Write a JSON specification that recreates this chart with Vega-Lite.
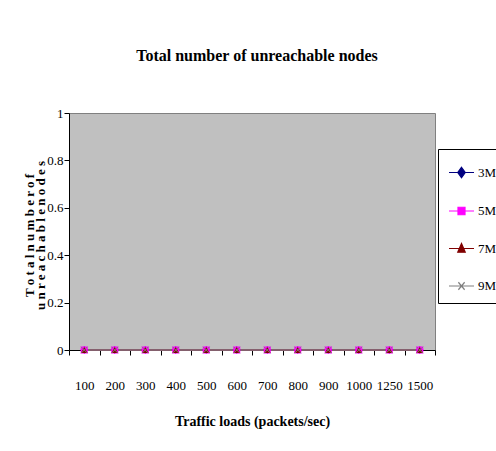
{
  "$schema": "https://vega.github.io/schema/vega-lite/v6.json",
  "width": 366,
  "height": 237,
  "autosize": {"type": "none"},
  "padding": {"left": 69, "top": 113, "right": 61, "bottom": 101},
  "background": "white",
  "title": {
    "text": "Total number of unreachable nodes",
    "font": "Liberation Serif",
    "fontSize": 16,
    "fontWeight": "bold",
    "color": "black",
    "anchor": "middle",
    "offset": 43,
    "dx": 5
  },
  "config": {
    "view": {"fill": "#c0c0c0", "stroke": "#808080", "strokeWidth": 1},
    "axis": {
      "labelFont": "Liberation Serif",
      "labelFontSize": 13,
      "labelColor": "black",
      "titleFont": "Liberation Serif",
      "titleColor": "black",
      "domainColor": "black",
      "tickColor": "black",
      "grid": false
    }
  },
  "data": {
    "values": [
      {"load": "100", "series": "3M", "nodes": 0},
      {"load": "200", "series": "3M", "nodes": 0},
      {"load": "300", "series": "3M", "nodes": 0},
      {"load": "400", "series": "3M", "nodes": 0},
      {"load": "500", "series": "3M", "nodes": 0},
      {"load": "600", "series": "3M", "nodes": 0},
      {"load": "700", "series": "3M", "nodes": 0},
      {"load": "800", "series": "3M", "nodes": 0},
      {"load": "900", "series": "3M", "nodes": 0},
      {"load": "1000", "series": "3M", "nodes": 0},
      {"load": "1250", "series": "3M", "nodes": 0},
      {"load": "1500", "series": "3M", "nodes": 0},
      {"load": "100", "series": "5M", "nodes": 0},
      {"load": "200", "series": "5M", "nodes": 0},
      {"load": "300", "series": "5M", "nodes": 0},
      {"load": "400", "series": "5M", "nodes": 0},
      {"load": "500", "series": "5M", "nodes": 0},
      {"load": "600", "series": "5M", "nodes": 0},
      {"load": "700", "series": "5M", "nodes": 0},
      {"load": "800", "series": "5M", "nodes": 0},
      {"load": "900", "series": "5M", "nodes": 0},
      {"load": "1000", "series": "5M", "nodes": 0},
      {"load": "1250", "series": "5M", "nodes": 0},
      {"load": "1500", "series": "5M", "nodes": 0},
      {"load": "100", "series": "7M", "nodes": 0},
      {"load": "200", "series": "7M", "nodes": 0},
      {"load": "300", "series": "7M", "nodes": 0},
      {"load": "400", "series": "7M", "nodes": 0},
      {"load": "500", "series": "7M", "nodes": 0},
      {"load": "600", "series": "7M", "nodes": 0},
      {"load": "700", "series": "7M", "nodes": 0},
      {"load": "800", "series": "7M", "nodes": 0},
      {"load": "900", "series": "7M", "nodes": 0},
      {"load": "1000", "series": "7M", "nodes": 0},
      {"load": "1250", "series": "7M", "nodes": 0},
      {"load": "1500", "series": "7M", "nodes": 0},
      {"load": "100", "series": "9M", "nodes": 0},
      {"load": "200", "series": "9M", "nodes": 0},
      {"load": "300", "series": "9M", "nodes": 0},
      {"load": "400", "series": "9M", "nodes": 0},
      {"load": "500", "series": "9M", "nodes": 0},
      {"load": "600", "series": "9M", "nodes": 0},
      {"load": "700", "series": "9M", "nodes": 0},
      {"load": "800", "series": "9M", "nodes": 0},
      {"load": "900", "series": "9M", "nodes": 0},
      {"load": "1000", "series": "9M", "nodes": 0},
      {"load": "1250", "series": "9M", "nodes": 0},
      {"load": "1500", "series": "9M", "nodes": 0}
    ]
  },
  "encoding": {
    "x": {
      "field": "load",
      "type": "ordinal",
      "sort": null,
      "bandPosition": 0.5,
      "scale": {"type": "band", "paddingInner": 0, "paddingOuter": 0},
      "axis": {
        "labelAngle": 0,
        "tickBand": "extent",
        "tickSize": 5,
        "labelPadding": 24,
        "title": "Traffic loads (packets/sec)",
        "titleFontSize": 14,
        "titleFontWeight": "bold",
        "titlePadding": 22
      }
    },
    "y": {
      "field": "nodes",
      "type": "quantitative",
      "scale": {"domain": [0, 1]},
      "axis": {
        "values": [0, 0.2, 0.4, 0.6, 0.8, 1],
        "format": "~g",
        "tickSize": 5,
        "labelPadding": 1,
        "title": ["T o t a l   n u m b e r   o f", "u n r e a c h a b l e   n o d e s"],
        "titleFontSize": 13,
        "titleFontWeight": "bold",
        "titleLineHeight": 11,
        "titleAngle": 270,
        "titleAlign": "center",
        "titleBaseline": "middle",
        "titleX": -40,
        "titleY": 122
      }
    }
  },
  "layer": [
    {
      "mark": {"type": "line", "strokeWidth": 1.5},
      "encoding": {
        "color": {
          "field": "series",
          "type": "nominal",
          "scale": {"domain": ["3M", "5M", "7M", "9M"], "range": ["#000080", "#ff00ff", "#800000", "#808080"]},
          "legend": {
            "orient": "none",
            "legendX": 369,
            "legendY": 36,
            "title": null,
            "strokeColor": "black",
            "fillColor": "white",
            "padding": 10,
            "rowPadding": 16.5,
            "labelFont": "Liberation Serif",
            "labelFontSize": 13,
            "labelColor": "black",
            "labelOffset": 3,
            "symbolSize": 625,
            "symbolStrokeWidth": 1.2,
            "encode": {
              "symbols": {
                "update": {
                  "shape": {"signal": "datum.value==='3M' ? 'M-1,0H1M0,-0.42L0.3,0L0,0.42L-0.3,0Z' : datum.value==='5M' ? 'M-1,0H1M-0.28,-0.3H0.28V0.3H-0.28Z' : datum.value==='7M' ? 'M-1,0H1M0,-0.4L0.3,0.3L-0.3,0.3Z' : 'M-1,0H1M-0.25,-0.3L0.25,0.3M-0.25,0.3L0.25,-0.3'"},
                  "fill": {"signal": "datum.value==='3M' ? '#000080' : datum.value==='5M' ? '#ff00ff' : datum.value==='7M' ? '#800000' : 'transparent'"},
                  "stroke": {"signal": "datum.value==='3M' ? '#000080' : datum.value==='5M' ? '#ff00ff' : datum.value==='7M' ? '#800000' : '#808080'"}
                }
              }
            }
          }
        }
      }
    },
    {
      "transform": [{"filter": "datum.series === '3M'"}],
      "mark": {"type": "point", "shape": "diamond", "filled": true, "size": 55, "color": "#000080", "opacity": 1}
    },
    {
      "transform": [{"filter": "datum.series === '5M'"}],
      "mark": {"type": "point", "shape": "square", "filled": true, "size": 50, "color": "#ff00ff", "opacity": 1}
    },
    {
      "transform": [{"filter": "datum.series === '7M'"}],
      "mark": {"type": "point", "shape": "triangle-up", "filled": true, "size": 45, "color": "#800000", "opacity": 1}
    },
    {
      "transform": [{"filter": "datum.series === '9M'"}],
      "mark": {"type": "point", "shape": "M-1,-1L1,1M-1,1L1,-1", "filled": false, "size": 40, "color": "#808080", "strokeWidth": 1, "opacity": 1}
    }
  ]
}
